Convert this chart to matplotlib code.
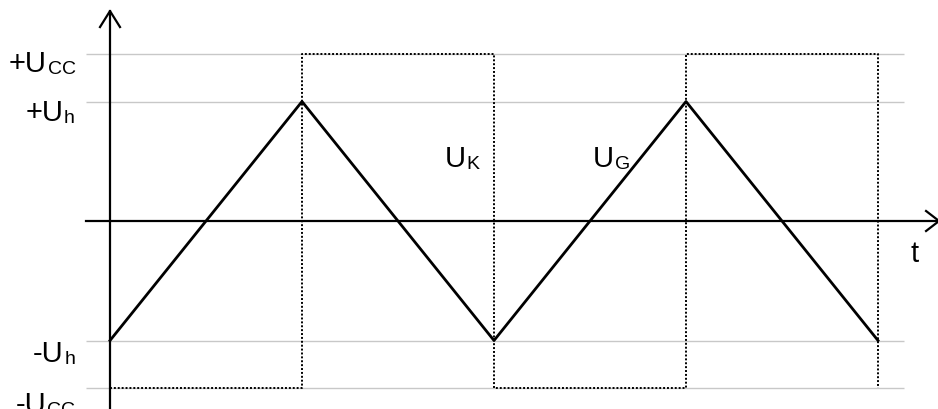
import numpy as np
import matplotlib
matplotlib.use("Agg")
import matplotlib.pyplot as plt

plt.rcParams['font.family'] = ['Liberation Sans', 'DejaVu Sans']

# levels (in units of U_h)
U_h = 1.0
U_cc = 1.4

# comparator input (triangle) and output (square) over time
tri_t = [0, 1, 2, 3, 4]
tri_v = [-U_h, U_h, -U_h, U_h, -U_h]
sq_t = [0, 1, 1, 2, 2, 3, 3, 4, 4]
sq_v = [-U_cc, -U_cc, U_cc, U_cc, -U_cc, -U_cc, U_cc, U_cc, -U_cc]

level_vals = [U_cc, U_h, -U_h, -U_cc]
level_main = ['+U', '+U', '-U', '-U']
level_sub = ['CC', 'h', 'h', 'CC']
level_x = [-0.526, -0.44, -0.40, -0.49]
level_base = [1.255, 0.845, -1.172, -1.60]

fig = plt.figure(figsize=(9.38, 4.10), dpi=100)
ax = fig.add_axes([0, 0, 1, 1])
ax.set_xlim(-110 / 192, 828 / 192)
ax.set_ylim(-188 / 119.5, 222 / 119.5)
ax.axis('off')

# gray reference levels
ax.hlines(level_vals, -0.125, 4.135, color='#c8c8c8', lw=1.0, zorder=1)

# axes with open arrow heads
ax.plot([-0.125, 4.318], [0, 0], color='black', lw=1.6, zorder=3)
ax.plot([0, 0], [-1.6, 1.757], color='black', lw=1.6, zorder=3)
ax.plot([4.318 - 13 / 192, 4.318, 4.318 - 13 / 192], [10 / 119.5, 0, -10 / 119.5],
        color='black', lw=1.6, zorder=3)
ax.plot([-10 / 192, 0, 10 / 192], [1.757 - 16 / 119.5, 1.757, 1.757 - 16 / 119.5],
        color='black', lw=1.6, zorder=3)

# signals
ax.plot(sq_t, sq_v, color='black', lw=1.4, ls=(0, (1, 1)), zorder=2)
ax.plot(tri_t, tri_v, color='black', lw=2.0, zorder=4)


def label(x, y, main, sub):
    m = ax.text(x, y, main, fontsize=21, ha='left', va='baseline')
    if sub:
        ax.annotate(sub, xy=(1, 0), xycoords=m, xytext=(0.5, 3),
                    textcoords='offset points', fontsize=14,
                    ha='left', va='baseline')


for x, y, mn, sb in zip(level_x, level_base, level_main, level_sub):
    label(x, y, mn, sb)

label(1.745, 0.46, 'U', 'K')
label(2.516, 0.46, 'U', 'G')
label(4.17, -0.335, 't', '')

fig.savefig('out.png', dpi=100)
